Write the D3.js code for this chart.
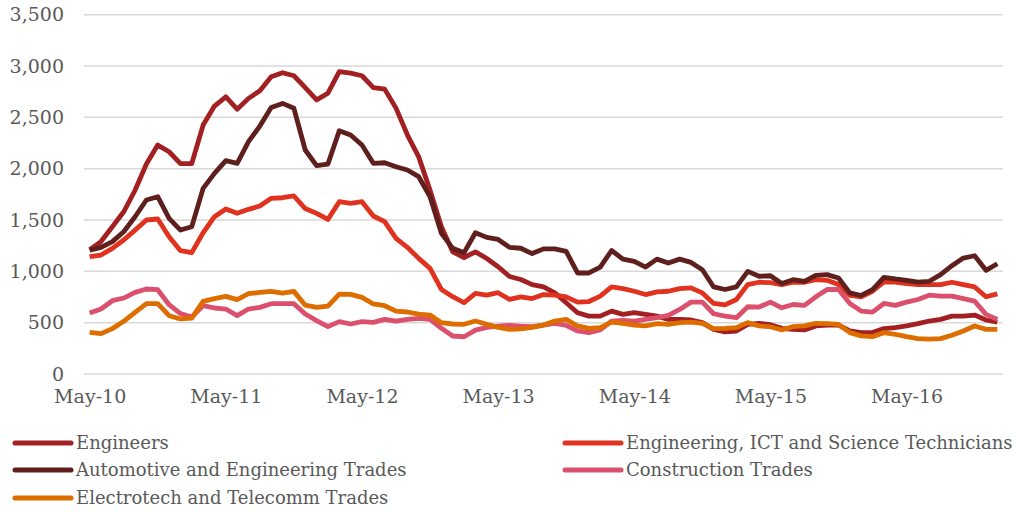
<!DOCTYPE html>
<html>
<head>
<meta charset="utf-8">
<script src="https://cdn.jsdelivr.net/npm/d3@7"></script>
<style>
  html, body { margin: 0; padding: 0; background: #fff; }
  svg text { font-family: Georgia, "DejaVu Serif", serif; fill: #595959; }
</style>
</head>
<body>
<svg id="chart" width="1024" height="512"></svg>
<script>
// monthly, May-10 .. Jan-17
const months = d3.timeMonth.range(new Date(2010, 4, 1), new Date(2017, 1, 1)).map(d3.timeFormat('%b-%y'));
const xTicks = ['May-10', 'May-11', 'May-12', 'May-13', 'May-14', 'May-15', 'May-16'];
const yTicks = [0, 500, 1000, 1500, 2000, 2500, 3000, 3500];

const engineers = [1210,1290,1435,1580,1790,2045,2230,2165,2050,2050,2425,2610,2700,2580,2685,2760,2895,2935,2905,2790,
  2670,2735,2945,2930,2905,2790,2775,2590,2330,2115,1790,1435,1190,1135,1190,1125,1045,950,920,870,
  848,790,694,597,564,564,613,581,597,581,564,532,532,526,500,435,410,419,484,494,
  480,445,435,429,468,477,477,419,403,403,442,452,468,490,516,532,564,564,574,526,506];
const technicians = [1143,1159,1224,1305,1402,1500,1510,1337,1201,1182,1376,1532,1607,1565,1604,1636,1711,1717,1734,1612,
  1565,1506,1678,1662,1678,1539,1484,1321,1234,1126,1029,824,753,694,785,769,792,727,752,735,
  774,768,752,700,706,758,848,832,806,774,800,806,832,839,790,687,674,726,871,894,
  890,871,894,894,919,913,871,765,752,806,897,894,881,871,871,871,894,871,848,752,781];
const automotive = [1205,1234,1289,1386,1532,1695,1727,1516,1402,1435,1808,1954,2078,2052,2263,2415,2597,2636,2588,2182,
  2030,2045,2370,2328,2230,2052,2058,2019,1987,1922,1727,1370,1224,1182,1376,1331,1311,1234,1225,1173,
  1219,1219,1194,984,984,1042,1203,1119,1097,1042,1119,1081,1119,1087,1016,848,823,848,1000,952,
  957,881,919,903,961,968,935,790,765,823,942,926,913,894,903,968,1055,1129,1152,1010,1074];
const construction = [594,633,714,740,795,828,821,675,588,555,666,643,633,568,633,649,685,685,685,585,
  520,461,510,487,510,503,532,516,532,542,532,445,370,363,428,454,467,474,465,461,
  477,494,474,419,403,429,516,523,516,532,548,571,629,700,700,587,564,548,655,652,
  700,645,677,668,752,823,823,687,613,603,687,668,700,726,768,758,758,735,710,581,532];
const electrotech = [406,393,442,513,601,685,685,568,536,545,708,734,756,724,782,795,805,789,805,670,
  650,662,779,776,747,682,665,613,604,584,574,500,487,484,516,484,454,435,440,455,
  477,516,532,468,445,452,506,494,477,468,490,484,500,506,494,442,445,452,500,468,
  460,429,461,468,494,490,484,403,371,364,403,387,364,345,339,345,377,419,468,435,435];

const seriesNames = ['Engineers', 'Engineering, ICT and Science Technicians', 'Automotive and Engineering Trades',
  'Construction Trades', 'Electrotech and Telecomm Trades'];
const seriesValues = [engineers, technicians, automotive, construction, electrotech];
const colors = ['#a21f22', '#e0321f', '#5e1f1d', '#db506c', '#de6d00'];

const svg = d3.select('#chart');
const plotLeft = 84, plotRight = 1003, plotTop = 14.7, plotBottom = 374;

const x = d3.scalePoint().domain(months).range([plotLeft, plotRight]).padding(0.5);
const y = d3.scaleLinear().domain([0, 3500]).range([plotBottom, plotTop]);

// gridlines
svg.append('g').selectAll('line').data(yTicks).enter().append('line')
  .attr('x1', plotLeft).attr('x2', plotRight)
  .attr('y1', d => y(d)).attr('y2', d => y(d))
  .attr('stroke', '#d9d9d9').attr('stroke-width', 1.5);

// y labels
const yAxis = svg.append('g').attr('transform', `translate(${plotLeft},0)`)
  .call(d3.axisLeft(y).tickValues(yTicks).tickFormat(d3.format(',')).tickSize(0).tickPadding(20));
yAxis.select('.domain').remove();
yAxis.selectAll('text').attr('font-size', 19).attr('fill', '#595959')
  .style('font-family', 'Georgia, "DejaVu Serif", serif');

// x labels
const xAxis = svg.append('g').attr('transform', `translate(0,${plotBottom})`)
  .call(d3.axisBottom(x).tickValues(xTicks).tickSize(0).tickPadding(16));
xAxis.select('.domain').remove();
xAxis.selectAll('text').attr('font-size', 19).attr('fill', '#595959')
  .style('font-family', 'Georgia, "DejaVu Serif", serif');

// lines
const line = d3.line().x((d, i) => x(months[i])).y(d => y(d));
svg.append('g').selectAll('path').data(seriesValues).enter().append('path')
  .attr('d', line)
  .attr('fill', 'none')
  .attr('stroke', (d, i) => colors[i])
  .attr('stroke-width', 4.8)
  .attr('stroke-linejoin', 'round');

// legend: 2 columns, row-wise
const legendPos = [[15, 443], [565, 443], [15, 470], [565, 470], [15, 498]];
const lg = svg.append('g').selectAll('g').data(seriesNames).enter().append('g')
  .attr('transform', (d, i) => `translate(${legendPos[i][0]},${legendPos[i][1]})`);
lg.append('line').attr('x1', 0).attr('x2', 56).attr('y1', 0).attr('y2', 0)
  .attr('stroke', (d, i) => colors[i]).attr('stroke-width', 5).attr('stroke-linecap', 'round');
lg.append('text').attr('x', 61).attr('y', 6).attr('font-size', 18).text(d => d);
</script>
</body>
</html>
